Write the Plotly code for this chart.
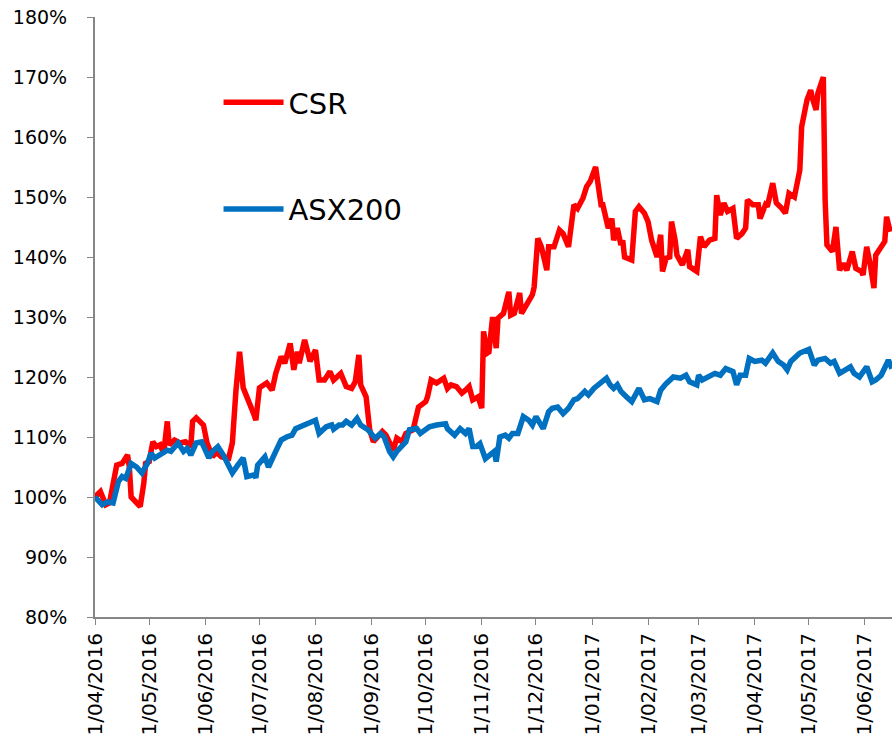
import pandas as pd
import plotly.graph_objects as go

start = pd.Timestamp("2016-04-01")

# days since 1/04/2016 and value (% of starting level)
csr_days = [0, 3, 6, 8, 12, 15, 18, 19, 20, 23, 25, 27, 28, 30, 32, 34, 36, 38, 40, 41,
            44, 47, 50, 53, 54, 56, 60, 62, 65, 67, 70, 74, 76, 78, 80, 82, 85, 88, 89, 91,
            95, 98, 100, 103, 105, 108, 110, 112, 113, 116, 119, 122, 124, 127, 130, 132, 136, 139, 142, 144,
            146, 147, 150, 152, 154, 157, 159, 161, 165, 167, 170, 172, 176, 179, 183, 184, 186, 189, 193, 195,
            197, 200, 203, 205, 207, 209, 212, 214, 215, 217, 218, 220, 222, 223, 226, 229, 230, 232, 235, 236,
            239, 242, 243, 245, 247, 250, 251, 254, 257, 259, 262, 264, 265, 267, 270, 272, 274, 277, 278, 280,
            281, 284, 286, 287, 289, 291, 292, 293, 297, 299, 301, 304, 306, 308, 311, 313, 314, 316, 318, 319,
            321, 322, 325, 328, 329, 333, 335, 337, 340, 343, 344, 346, 348, 350, 353, 355, 358, 360, 361, 364,
            367, 368, 371, 372, 375, 377, 380, 382, 384, 387, 390, 391, 394, 396, 397, 399, 400, 403, 404, 405,
            408, 410, 412, 414, 416, 419, 421, 424, 425, 427, 429, 431, 432, 435, 437, 438, 440]
csr = [100, 100.9, 98.7, 99, 105.3, 105.6, 107, 105, 100, 99, 98.4, 102.3, 105.6, 105.9, 109.2, 108.4, 108.7, 107.3, 112.6, 108.7,
       109.5, 109, 109.2, 108.4, 112.6, 113.2, 112, 109, 106.7, 107.5, 106.7, 106.5, 109, 117.8, 124.2, 118.2, 116.2, 113.7, 112.8, 118.2,
       119, 117.8, 120.6, 123.4, 122.3, 125.6, 121.2, 124.2, 122.3, 126.2, 122.6, 124.5, 119.5, 119.5, 120.9, 119.5, 120.6, 118.4, 118.1, 119.2,
       123.7, 118.7, 116.7, 111.2, 109.2, 110.3, 110.9, 110.3, 107.8, 109.8, 109.2, 110.6, 111.2, 115, 115.9, 116.7, 119.5, 119, 119.8, 118.1,
       118.7, 118.4, 117.3, 117.8, 118.4, 116.2, 116.7, 114.8, 127.6, 124, 124.2, 130, 124.8, 129.8, 130.6, 134.2, 130.3, 130.6, 134, 130.6,
       132.3, 133.7, 135, 143.1, 141.7, 137.8, 141.7, 141.7, 144.5, 143.9, 141.7, 147.8, 148.7, 148.1, 149.8, 151.7, 152.6, 155, 152.8, 148.7,
       148.7, 144.8, 146.4, 142.8, 144.8, 142, 142.8, 140, 139.5, 147.6, 148.4, 147.3, 145.9, 142.8, 140, 143.7, 137.6, 139.8, 140, 145.9,
       142.8, 140.3, 138.7, 141.2, 138.4, 137.6, 143.4, 141.7, 142.8, 143.1, 150.3, 147, 149, 147.6, 148.1, 143.1, 143.9, 144.8, 149.5, 148.7,
       148.7, 146.4, 148.7, 148.4, 152.3, 149, 148.1, 147.3, 150.6, 150, 154.5, 161.7, 166.2, 167.8, 166.4, 164.5, 167.3, 170, 149.5, 142,
       140.9, 145, 137.8, 138.9, 137.8, 140.9, 138.1, 137.6, 137, 141.7, 138.7, 134.8, 140.3, 141.7, 142.6, 146.7, 144.2]

asx_days = [0, 4, 7, 10, 13, 15, 17, 20, 23, 26, 29, 31, 33, 36, 40, 42, 46, 49, 51, 53,
            56, 59, 61, 63, 65, 68, 71, 76, 79, 82, 84, 88, 89, 90, 94, 96, 100, 103, 106, 109,
            111, 113, 117, 122, 124, 128, 131, 132, 135, 137, 139, 142, 145, 147, 151, 155, 158, 160, 163, 165,
            167, 170, 172, 174, 178, 180, 183, 185, 189, 194, 195, 199, 202, 205, 207, 209, 211, 213, 216, 219,
            221, 222, 224, 227, 229, 231, 234, 237, 240, 242, 244, 248, 251, 253, 256, 259, 262, 265, 267, 271,
            273, 276, 279, 283, 285, 287, 289, 291, 294, 297, 301, 304, 307, 311, 313, 316, 320, 324, 327, 329,
            333, 334, 336, 339, 343, 346, 349, 353, 355, 357, 360, 362, 365, 369, 371, 375, 378, 381, 383, 385,
            390, 395, 398, 400, 404, 407, 409, 412, 415, 418, 420, 423, 427, 430, 432, 435, 439, 441]
asx = [100, 98.7, 99.2, 99, 102.6, 103.4, 103.1, 105.6, 105, 104, 105.6, 107.3, 106.5, 107, 107.8, 107.6, 109, 107.6, 108.1, 107,
       109, 109.2, 107.8, 106.5, 107.6, 108.4, 107, 104, 105.3, 106.5, 103.4, 103.7, 103.2, 105.3, 106.7, 105, 107.6, 109.5, 110, 110.3,
       111.4, 111.7, 112.3, 112.8, 110.6, 111.7, 112, 111.3, 112, 112, 112.6, 112, 113.1, 112, 111.2, 109.8, 110.6, 110, 107.6, 106.7,
       107.6, 108.4, 109.2, 111.2, 111.4, 110.6, 111.4, 111.7, 112, 112.2, 111.4, 110.3, 111.4, 110.6, 111.4, 108.4, 108.4, 108.9, 106.4, 107,
       107.6, 105.9, 110, 110.3, 109.8, 110.6, 110.6, 113.4, 112.8, 112, 113.4, 111.4, 114.2, 114.8, 115, 113.9, 114.8, 116.2, 116.4, 117.6,
       117, 118.1, 118.9, 119.8, 118.7, 118.1, 118.7, 117.6, 116.7, 115.9, 118.1, 116.2, 116.4, 115.9, 117.8, 118.9, 120, 119.8, 120.3, 119.2,
       118.7, 120.3, 119.5, 120, 120.6, 120.3, 121.4, 120.9, 118.7, 120.3, 120.3, 123.1, 122.6, 122.8, 122.3, 124, 122.6, 122, 121.2, 122.6,
       124, 124.6, 122, 122.8, 123.1, 122.3, 122.6, 120.6, 121.2, 121.7, 120.6, 120, 121.7, 119.2, 119.5, 120.3, 122.8, 121.4]

csr_dates = start + pd.to_timedelta(csr_days, unit="D")
asx_dates = start + pd.to_timedelta(asx_days, unit="D")

fig = go.Figure()
fig.add_trace(go.Scatter(x=csr_dates, y=csr, mode="lines", name="CSR", legendgroup="a",
                         line=dict(color="#FF0000", width=5.5)))
fig.add_trace(go.Scatter(x=asx_dates, y=asx, mode="lines", name="ASX200", legendgroup="b",
                         line=dict(color="#0070C0", width=5.5)))

axis_grey = "#868686"
fig.update_xaxes(range=[start, start + pd.Timedelta(days=441)], dtick="M1", tick0="2016-04-01",
                 tickformat="%-d/%m/%Y", tickangle=-90, ticks="outside", ticklen=6, tickcolor=axis_grey,
                 showline=True, linecolor=axis_grey, linewidth=2, showgrid=False, zeroline=False,
                 tickfont=dict(family="DejaVu Sans", size=20, color="black"))
fig.update_yaxes(range=[80, 180], dtick=10, ticksuffix="%", ticks="outside", ticklen=6, tickcolor=axis_grey,
                 showline=True, linecolor=axis_grey, linewidth=2, showgrid=False, zeroline=False,
                 ticklabelstandoff=16,
                 tickfont=dict(family="DejaVu Sans", size=19, color="black"))

fig.update_layout(
    width=892, height=749,
    margin=dict(l=95, r=0, t=17, b=132),
    plot_bgcolor="white", paper_bgcolor="white",
    legend=dict(x=0.155, y=0.9, xanchor="left", yanchor="top", traceorder="grouped",
                tracegroupgap=66, font=dict(family="DejaVu Sans", size=29, color="black"),
                bgcolor="rgba(0,0,0,0)", itemwidth=60),
)

fig.write_html("out.html", config={"displayModeBar": False},
               post_script="document.body.style.margin='0';")
